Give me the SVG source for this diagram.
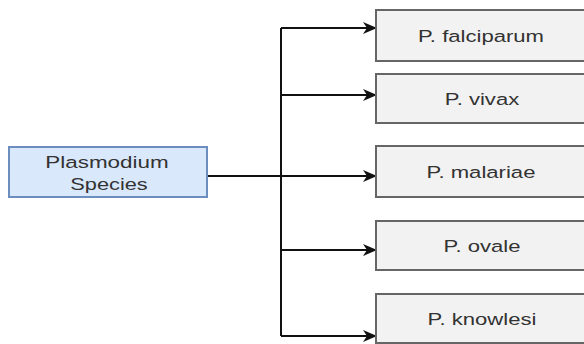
<svg xmlns="http://www.w3.org/2000/svg" width="584" height="344" viewBox="0 0 584 344">
<defs>
<style>
.src rect{fill:#dae8fc;stroke:#6c8ebf;stroke-width:2}
.leaf rect{fill:#f2f2f2;stroke:#666;stroke-width:2}
text{font-family:"Liberation Sans",Arial,sans-serif;font-size:17px;fill:#333;text-anchor:middle}
.conn{stroke:#111;stroke-width:2;fill:none}
</style>
<marker id="arr" viewBox="0 0 14 12" refX="13" refY="6" markerWidth="14" markerHeight="12" markerUnits="userSpaceOnUse" orient="auto">
<path d="M0,0 L14,6 L0,12 L4,6 Z" fill="#111"/>
</marker>
</defs>
<rect width="584" height="344" fill="#fff"/>
<g id="connectors">
<path class="conn" d="M207,176 H376" marker-end="url(#arr)"/>
<path class="conn" d="M281,28 V336"/>
<path class="conn" d="M281,28 H376" marker-end="url(#arr)"/>
<path class="conn" d="M281,95 H376" marker-end="url(#arr)"/>
<path class="conn" d="M281,250 H376" marker-end="url(#arr)"/>
<path class="conn" d="M281,336 H376" marker-end="url(#arr)"/>
</g>
<g id="plasmodium" class="src">
<rect x="9" y="147" width="198" height="50"/>
<text transform="translate(107,168) scale(1.32,1)">Plasmodium</text>
<text transform="translate(109,190) scale(1.28,1)">Species</text>
</g>
<g id="falciparum" class="leaf">
<rect x="376" y="10" width="214" height="51"/>
<text transform="translate(481,42) scale(1.3,1)">P. falciparum</text>
</g>
<g id="vivax" class="leaf">
<rect x="376" y="74" width="214" height="49"/>
<text transform="translate(482,105) scale(1.3,1)">P. vivax</text>
</g>
<g id="malariae" class="leaf">
<rect x="376" y="146" width="214" height="51"/>
<text transform="translate(481,178) scale(1.3,1)">P. malariae</text>
</g>
<g id="ovale" class="leaf">
<rect x="376" y="221" width="214" height="49"/>
<text transform="translate(482,252) scale(1.3,1)">P. ovale</text>
</g>
<g id="knowlesi" class="leaf">
<rect x="376" y="294" width="214" height="49"/>
<text transform="translate(482,325) scale(1.3,1)">P. knowlesi</text>
</g>
</svg>
